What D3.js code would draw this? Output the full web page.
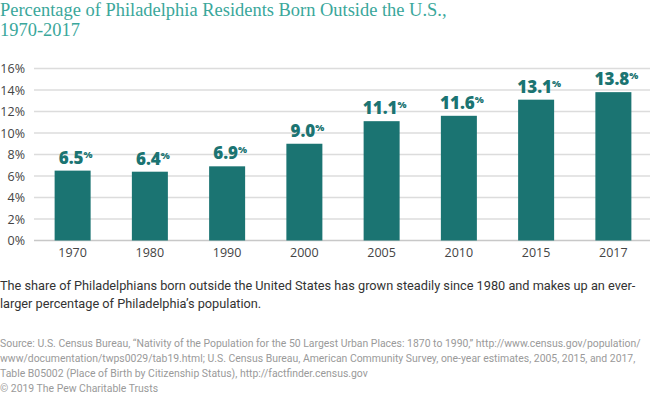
<!DOCTYPE html>
<html><head><meta charset="utf-8">
<script src="https://cdn.jsdelivr.net/npm/d3@7"></script>
<style>body{margin:0;background:#fff}svg{display:block}</style>
</head><body>
<script>
const years = ["1970","1980","1990","2000","2005","2010","2015","2017"];
const values = [6.5, 6.4, 6.9, 9.0, 11.1, 11.6, 13.1, 13.8];
const yTicks = [0,2,4,6,8,10,12,14,16];
const titleLines = ["Percentage of Philadelphia Residents Born Outside the U.S.,","1970-2017"];
const bodyLines = ["The share of Philadelphians born outside the United States has grown steadily since 1980 and makes up an ever-","larger percentage of Philadelphia\u2019s population."];
const sourceLines = ["Source: U.S. Census Bureau, \u201cNativity of the Population for the 50 Largest Urban Places: 1870 to 1990,\u201d http://www.census.gov/population/",
"www/documentation/twps0029/tab19.html; U.S. Census Bureau, American Community Survey, one-year estimates, 2005, 2015, and 2017,",
"Table B05002 (Place of Birth by Citizenship Status), http://factfinder.census.gov"];
const credit = "\u00a9 2019 The Pew Charitable Trusts";

const W=650,H=396;
const svg=d3.select("body").append("svg").attr("width",W).attr("height",H);
const x=d3.scaleBand().domain(years).range([34,652]).paddingInner(0.534).paddingOuter(0.267);
const y=d3.scaleLinear().domain([0,16]).range([240.5,68.5]);

// scale the font of a text block so its reference line spans the target width
function fitFont(textSel, refIndex, target, base){
  const n=textSel.selectAll("tspan").nodes()[refIndex];
  const fs=base*target/n.getComputedTextLength();
  textSel.attr("font-size",fs);
  return fs;
}

// title
const tt=svg.append("text").attr("font-family","'Liberation Serif',serif").attr("font-size",20).attr("fill","#3aa79b");
titleLines.forEach((t,i)=>tt.append("tspan").attr("x",0).attr("y",16+i*20).text(t));
fitFont(tt,0,447,20);

// grid
svg.append("g").selectAll("line").data(yTicks).join("line")
 .attr("x1",34).attr("x2",650).attr("y1",d=>y(d)).attr("y2",d=>y(d))
 .attr("stroke",d=>d===0?"#c8c8c8":"#dcdcdc").attr("stroke-width",1.6);
// y labels
svg.append("g").selectAll("text").data(yTicks).join("text")
 .attr("x",25).attr("y",d=>y(d)+4.5).attr("text-anchor","end")
 .attr("font-family","'Open Sans',sans-serif").attr("font-size",12.5).attr("fill","#444")
 .text(d=>d+"%");
// bars
svg.append("g").selectAll("rect").data(values).join("rect")
 .attr("x",(d,i)=>x(years[i])).attr("width",x.bandwidth())
 .attr("y",d=>y(d)).attr("height",d=>y(0)-y(d)).attr("fill","#1b7472");
// x labels
svg.append("g").selectAll("text").data(years).join("text")
 .attr("x",d=>x(d)+x.bandwidth()/2).attr("y",257).attr("text-anchor","middle")
 .attr("font-family","'Open Sans',sans-serif").attr("font-size",12.5).attr("fill","#444").text(d=>d);
// value labels
const vl=svg.append("g").selectAll("text").data(values).join("text")
 .attr("x",(d,i)=>x(years[i])+x.bandwidth()/2+3).attr("y",d=>y(d)-7).attr("text-anchor","middle")
 .attr("font-family","'Open Sans',sans-serif").attr("font-weight",800).attr("fill","#1b7472");
vl.append("tspan").attr("font-size",17).text(d=>d.toFixed(1));
vl.append("tspan").attr("font-size",9.5).attr("dy",-6).text("%");

// body
const bt=svg.append("text").attr("font-family","'Roboto',sans-serif").attr("font-size",14).attr("fill","#333");
bodyLines.forEach((t,i)=>bt.append("tspan").attr("x",0).attr("y",290+i*18).text(t));
fitFont(bt,0,636,14);
// source
const st=svg.append("text").attr("font-family","'Roboto',sans-serif").attr("font-size",10.5).attr("fill","#9a9a9a");
sourceLines.forEach((t,i)=>st.append("tspan").attr("x",0).attr("y",347+i*15).text(t));
const sfs=fitFont(st,1,636,10.5);
svg.append("text").attr("x",0).attr("y",392).attr("font-family","'Roboto',sans-serif").attr("font-size",sfs).attr("fill","#9a9a9a").text(credit);
</script>
</body></html>
